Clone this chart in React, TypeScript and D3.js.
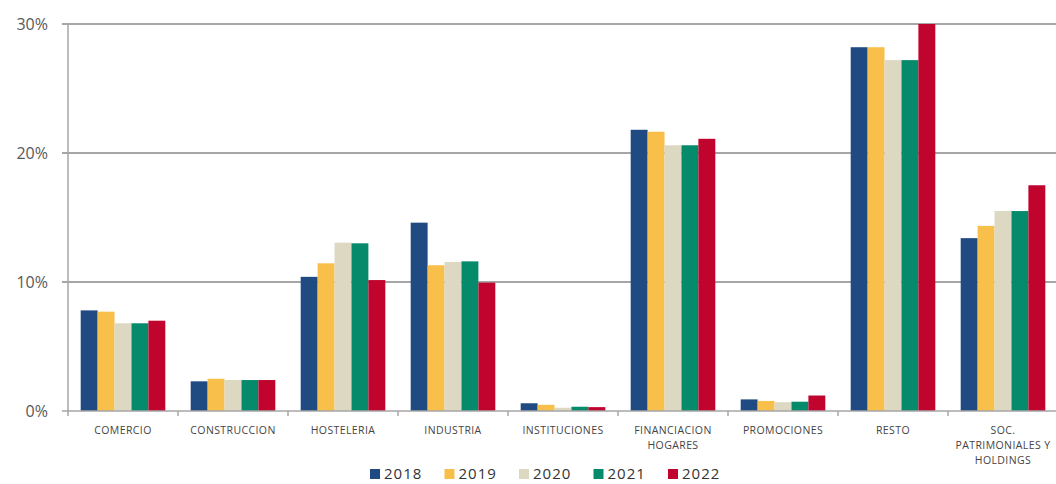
import React from "react";
import * as d3 from "d3";

const categories: string[][] = [
  ["COMERCIO"],
  ["CONSTRUCCION"],
  ["HOSTELERIA"],
  ["INDUSTRIA"],
  ["INSTITUCIONES"],
  ["FINANCIACION", "HOGARES"],
  ["PROMOCIONES"],
  ["RESTO"],
  ["SOC.", "PATRIMONIALES Y", "HOLDINGS"],
];
const years = ["2018", "2019", "2020", "2021", "2022"];
const v2018 = [7.8, 2.3, 10.4, 14.6, 0.6, 21.8, 0.9, 28.2, 13.4];
const v2019 = [7.7, 2.5, 11.45, 11.3, 0.48, 21.65, 0.78, 28.2, 14.35];
const v2020 = [6.8, 2.4, 13.05, 11.55, 0.25, 20.6, 0.68, 27.2, 15.5];
const v2021 = [6.8, 2.4, 13.0, 11.6, 0.33, 20.6, 0.72, 27.2, 15.5];
const v2022 = [7.0, 2.4, 10.15, 9.95, 0.3, 21.1, 1.2, 30.0, 17.5];
const series = [v2018, v2019, v2020, v2021, v2022];
const colors = ["#1f4a82", "#f8bf4a", "#dcd8c2", "#068a6c", "#c1042e"];
const yTicks = [0, 10, 20, 30];

const W = 1056;
const H = 484;
const left = 68;
const right = 1058;
const top = 24;
const bottom = 411;

export default function App() {
  const idx = categories.map((_, i) => String(i));
  const x = d3.scaleBand<string>().domain(idx).range([left, right]).paddingInner(0).paddingOuter(0);
  const x1 = d3
    .scaleBand<string>()
    .domain(years)
    .range([0, x.bandwidth()])
    .paddingOuter(0.75)
    .paddingInner(0);
  const y = d3.scaleLinear().domain([0, 30]).range([bottom, top]);

  const legendStart = 370;
  const legendStep = 74.5;

  return (
    <svg
      width={W}
      height={H}
      style={{ position: "absolute", left: 0, top: 0, background: "#fff" }}
      fontFamily="'Open Sans', 'Liberation Sans', sans-serif"
    >
      {yTicks.map((t) => (
        <g key={t}>
          {t > 0 && (
            <line x1={left - 6} x2={W} y1={y(t)} y2={y(t)} stroke="#a6a6a6" strokeWidth={2} />
          )}
          <text
            x={48}
            y={y(t)}
            dy="0.35em"
            textAnchor="end"
            fontSize={16}
            fill="#595959"
          >
            {t}%
          </text>
        </g>
      ))}
      {series.map((vals, s) =>
        vals.map((v, i) => (
          <rect
            key={`${s}-${i}`}
            x={(x(String(i)) as number) + (x1(years[s]) as number)}
            width={x1.bandwidth()}
            y={y(v)}
            height={y(0) - y(v)}
            fill={colors[s]}
          />
        ))
      )}
      <line x1={left} x2={left} y1={top} y2={bottom} stroke="#a6a6a6" strokeWidth={1.5} />
      <line x1={left - 6} x2={W} y1={bottom} y2={bottom} stroke="#a6a6a6" strokeWidth={1.5} />
      {d3.range(categories.length + 1).map((i) => (
        <line
          key={i}
          x1={left + i * x.bandwidth()}
          x2={left + i * x.bandwidth()}
          y1={bottom}
          y2={bottom + 5}
          stroke="#a6a6a6"
          strokeWidth={1.5}
        />
      ))}
      {categories.map((lines, i) => (
        <text
          key={i}
          x={(x(String(i)) as number) + x.bandwidth() / 2}
          y={434}
          textAnchor="middle"
          fontSize={10.5}
          letterSpacing={0.4}
          fill="#444"
        >
          {lines.map((l, k) => (
            <tspan key={k} x={(x(String(i)) as number) + x.bandwidth() / 2} dy={k === 0 ? 0 : 15}>
              {l}
            </tspan>
          ))}
        </text>
      ))}
      {years.map((yr, s) => (
        <g key={yr} transform={`translate(${legendStart + s * legendStep},0)`}>
          <rect x={0} y={469} width={10} height={10} fill={colors[s]} />
          <text x={14} y={474} dy="0.35em" fontSize={15} fill="#333" letterSpacing={1}>
            {yr}
          </text>
        </g>
      ))}
    </svg>
  );
}
